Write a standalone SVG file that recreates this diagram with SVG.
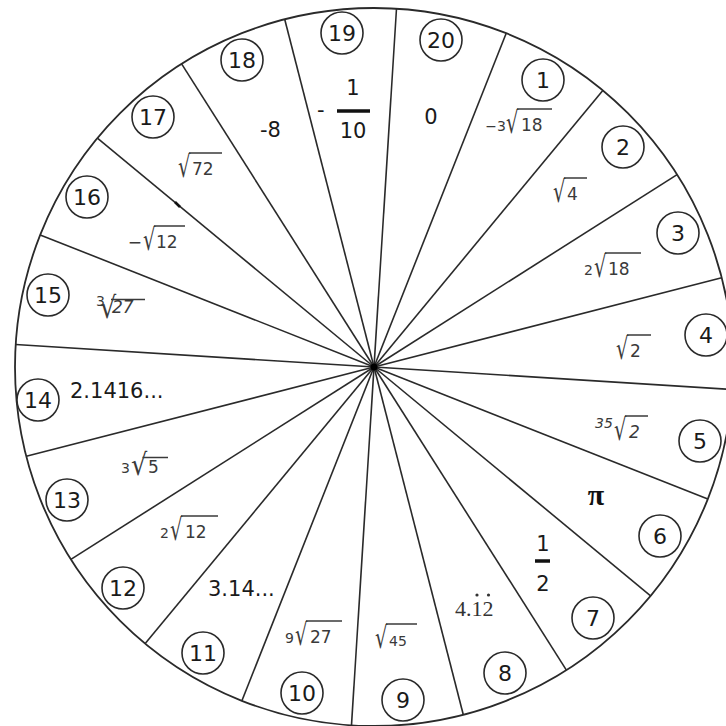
<svg xmlns="http://www.w3.org/2000/svg" width="726" height="726" viewBox="0 0 726 726">
<style>
.rim{stroke:#2a2a2a;stroke-width:1.8;fill:#fff}
.spoke{stroke:#2a2a2a;stroke-width:1.6;fill:none}
.badge{fill:#fff;stroke:#2a2a2a;stroke-width:1.6}
.num{font-family:"DejaVu Sans",Verdana,sans-serif;font-size:22px;fill:#1a1a1a;text-anchor:middle}
.val{font-family:"DejaVu Sans",Verdana,sans-serif;font-size:21px;fill:#1a1a1a}
.sm{font-family:"DejaVu Sans",Verdana,sans-serif;font-size:17px;fill:#3a3a3a}
.xs{font-family:"DejaVu Sans",Verdana,sans-serif;font-size:14px;fill:#3a3a3a}
.rad{font-family:"DejaVu Sans",Verdana,sans-serif;font-size:30px;fill:#3a3a3a}
.vin{stroke:#3a3a3a;stroke-width:1.5}
.bar{stroke:#111;stroke-width:3.5}
</style>
<rect width="726" height="726" fill="#fff"/>
<circle id="rim" class="rim" cx="374" cy="367" r="359"/>
<g id="connectors">
<line class="spoke" x1="374" y1="367" x2="396.5" y2="8.7"/>
<line class="spoke" x1="374" y1="367" x2="506.2" y2="33.2"/>
<line class="spoke" x1="374" y1="367" x2="602.8" y2="90.4"/>
<line class="spoke" x1="374" y1="367" x2="677.1" y2="174.6"/>
<line class="spoke" x1="374" y1="367" x2="721.7" y2="277.7"/>
<line class="spoke" x1="374" y1="367" x2="732.3" y2="389.5"/>
<line class="spoke" x1="374" y1="367" x2="707.8" y2="499.1"/>
<line class="spoke" x1="374" y1="367" x2="650.6" y2="595.8"/>
<line class="spoke" x1="374" y1="367" x2="566.4" y2="670.1"/>
<line class="spoke" x1="374" y1="367" x2="463.3" y2="714.7"/>
<line class="spoke" x1="374" y1="367" x2="351.5" y2="725.3"/>
<line class="spoke" x1="374" y1="367" x2="241.9" y2="700.8"/>
<line class="spoke" x1="374" y1="367" x2="145.2" y2="643.6"/>
<line class="spoke" x1="374" y1="367" x2="70.9" y2="559.4"/>
<line class="spoke" x1="374" y1="367" x2="26.3" y2="456.3"/>
<line class="spoke" x1="374" y1="367" x2="15.7" y2="344.5"/>
<line class="spoke" x1="374" y1="367" x2="40.2" y2="234.9"/>
<line class="spoke" x1="374" y1="367" x2="97.4" y2="138.2"/>
<line class="spoke" x1="374" y1="367" x2="181.6" y2="63.9"/>
<line class="spoke" x1="374" y1="367" x2="284.7" y2="19.3"/>
<line x1="175" y1="202" x2="180" y2="207" stroke="#111" stroke-width="2.6"/>
<circle cx="374" cy="367" r="3.5" fill="#000"/>
</g>

<g id="sector-20">
<circle class="badge" cx="441" cy="40" r="21"/><text class="num" x="441" y="48">20</text>
<text class="val" x="431" y="124" text-anchor="middle">0</text>
</g>
<g id="sector-1">
<circle class="badge" cx="543" cy="80" r="21"/><text class="num" x="543" y="88">1</text>
<text class="xs" x="506" y="131" text-anchor="end">−3</text>
<text class="rad" transform="translate(506,133) scale(0.65,1)">√</text>
<text class="sm" x="521" y="131">18</text>
<line class="vin" x1="517" y1="109" x2="552" y2="109"/>
</g>
<g id="sector-2">
<circle class="badge" cx="623" cy="147" r="21"/><text class="num" x="623" y="155">2</text>
<text class="rad" transform="translate(553,202) scale(0.65,1)">√</text>
<text class="sm" x="567" y="200">4</text>
<line class="vin" x1="564" y1="178" x2="587" y2="178"/>
</g>
<g id="sector-3">
<circle class="badge" cx="678" cy="233" r="21"/><text class="num" x="678" y="241">3</text>
<text class="xs" x="593" y="275" text-anchor="end">2</text>
<text class="rad" transform="translate(594,277) scale(0.65,1)">√</text>
<text class="sm" x="608" y="275">18</text>
<line class="vin" x1="605" y1="253" x2="641" y2="253"/>
</g>
<g id="sector-4">
<circle class="badge" cx="706" cy="335" r="21"/><text class="num" x="706" y="343">4</text>
<text class="rad" transform="translate(616,359) scale(0.65,1)">√</text>
<text class="sm" x="630" y="357">2</text>
<line class="vin" x1="627" y1="335" x2="651" y2="335"/>
</g>
<g id="sector-5">
<circle class="badge" cx="700" cy="441" r="21"/><text class="num" x="700" y="449">5</text>
<text class="xs" x="595" y="428" font-style="italic">35</text>
<text class="rad" transform="translate(614,440) scale(0.65,1)">√</text>
<text class="sm" x="629" y="438" font-style="italic">2</text>
<line class="vin" x1="625" y1="416" x2="648" y2="416"/>
</g>
<g id="sector-6">
<circle class="badge" cx="660" cy="536" r="21"/><text class="num" x="660" y="544">6</text>
<text x="596" y="505" text-anchor="middle" font-family="'Liberation Serif',serif" font-weight="bold" font-size="30" fill="#111">π</text>
</g>
<g id="sector-7">
<circle class="badge" cx="593" cy="618" r="21"/><text class="num" x="593" y="626">7</text>
<text class="val" x="543" y="551" text-anchor="middle">1</text>
<line class="bar" x1="535" y1="561" x2="550" y2="561"/>
<text class="val" x="543" y="591" text-anchor="middle">2</text>
</g>
<g id="sector-8">
<circle class="badge" cx="505" cy="673" r="21"/><text class="num" x="505" y="681">8</text>
<text x="455" y="616" font-family="'Liberation Serif',serif" font-size="22" fill="#333">4.12</text>
<circle cx="477" cy="595" r="1.6" fill="#333"/>
<circle cx="488.5" cy="595" r="1.6" fill="#333"/>
</g>
<g id="sector-9">
<circle class="badge" cx="403" cy="700" r="21"/><text class="num" x="403" y="708">9</text>
<text class="rad" transform="translate(375,648) scale(0.65,1)">√</text>
<text class="xs" x="389" y="646">45</text>
<line class="vin" x1="386" y1="624" x2="417" y2="624"/>
</g>
<g id="sector-10">
<circle class="badge" cx="302" cy="693" r="21"/><text class="num" x="302" y="701">10</text>
<text class="xs" x="294" y="643" text-anchor="end">9</text>
<text class="rad" transform="translate(295,645) scale(0.65,1)">√</text>
<text class="sm" x="310" y="643">27</text>
<line class="vin" x1="306" y1="621" x2="342" y2="621"/>
</g>
<g id="sector-11">
<circle class="badge" cx="203" cy="653" r="21"/><text class="num" x="203" y="661">11</text>
<text class="val" x="208" y="596" font-size="22">3.14...</text>
</g>
<g id="sector-12">
<circle class="badge" cx="123" cy="588" r="21"/><text class="num" x="123" y="596">12</text>
<text class="xs" x="169" y="538" text-anchor="end">2</text>
<text class="rad" transform="translate(170,540) scale(0.65,1)">√</text>
<text class="sm" x="185" y="538">12</text>
<line class="vin" x1="181" y1="516" x2="218" y2="516"/>
</g>
<g id="sector-13">
<circle class="badge" cx="67" cy="500" r="21"/><text class="num" x="67" y="508">13</text>
<text class="xs" x="130" y="473" text-anchor="end">3</text>
<text class="rad" font-size="22" transform="translate(131,475) scale(0.85,1)">√</text>
<text class="sm" x="148" y="473">5</text>
<line class="vin" x1="142.5" y1="457.5" x2="168" y2="457.5"/>
</g>
<g id="sector-14">
<circle class="badge" cx="38" cy="400" r="21"/><text class="num" x="38" y="408">14</text>
<text class="val" x="70" y="398" font-size="21.5">2.1416...</text>
</g>
<g id="sector-15">
<circle class="badge" cx="48" cy="295" r="21"/><text class="num" x="48" y="303">15</text>
<text class="xs" x="96" y="306" font-size="8">3</text>
<text class="rad" font-size="23" transform="translate(100,318) scale(0.85,1)">√</text>
<text class="sm" x="112" y="313" font-style="italic">27</text>
<line class="vin" x1="111" y1="299.5" x2="145" y2="299.5"/>
</g>
<g id="sector-16">
<circle class="badge" cx="87" cy="197" r="21"/><text class="num" x="87" y="205">16</text>
<text class="sm" x="142" y="248" text-anchor="end">−</text>
<text class="rad" transform="translate(143,250) scale(0.65,1)">√</text>
<text class="sm" x="156" y="248">12</text>
<line class="vin" x1="154" y1="226" x2="185" y2="226"/>
</g>
<g id="sector-17">
<circle class="badge" cx="153" cy="117" r="21"/><text class="num" x="153" y="125">17</text>
<text class="rad" transform="translate(178,177) scale(0.65,1)">√</text>
<text class="sm" x="192" y="175">72</text>
<line class="vin" x1="189" y1="153" x2="222" y2="153"/>
</g>
<g id="sector-18">
<circle class="badge" cx="242" cy="60" r="21"/><text class="num" x="242" y="68">18</text>
<text class="val" x="260" y="137" font-size="22">-8</text>
</g>
<g id="sector-19">
<circle class="badge" cx="342" cy="33" r="21"/><text class="num" x="342" y="41">19</text>
<text class="val" x="317" y="117" font-size="22">-</text>
<text class="val" x="353" y="95" text-anchor="middle" font-size="22">1</text>
<line class="bar" x1="337" y1="111" x2="370" y2="111"/>
<text class="val" x="353" y="138" text-anchor="middle" font-size="22">10</text>
</g>
</svg>
